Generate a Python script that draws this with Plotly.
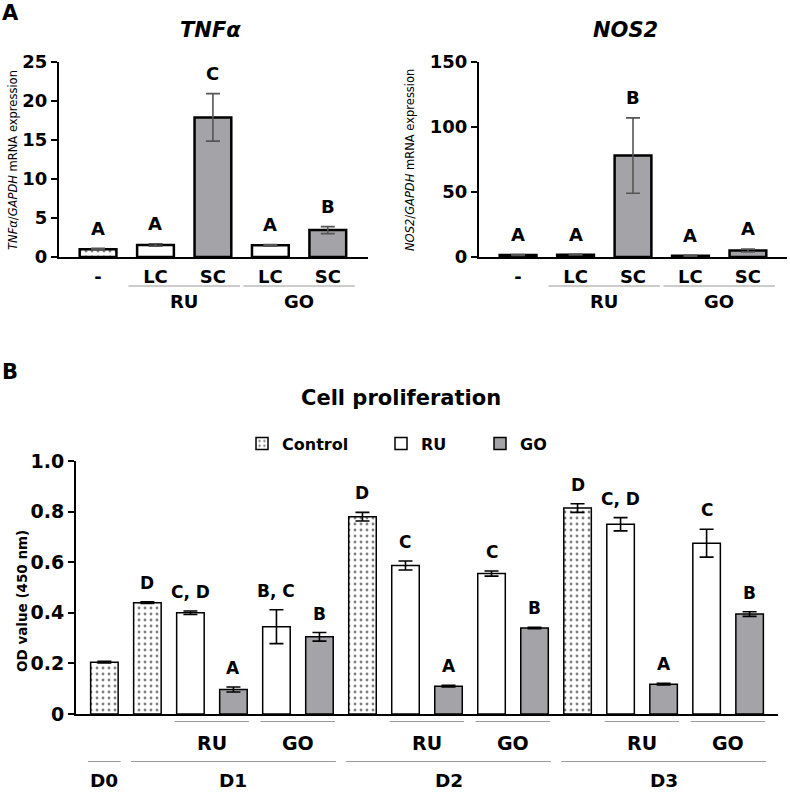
import plotly.graph_objects as go

# ---- data ----
a_labels = ['-', 'LC', 'SC', 'LC', 'SC']
a_kind = ['Control', 'RU', 'GO', 'RU', 'GO']
a_groups = [('RU', 1, 2), ('GO', 3, 4)]

tnf_mean = [1.0, 1.55, 17.9, 1.5, 3.45]
tnf_err = [0.1, 0.15, 3.05, 0.1, 0.45]
tnf_letters = ['A', 'A', 'C', 'A', 'B']

nos_mean = [1.5, 1.8, 78.0, 1.0, 5.0]
nos_err = [0.3, 0.3, 29.0, 0.3, 1.2]
nos_letters = ['A', 'A', 'B', 'A', 'A']

b_kind = ['Control', 'Control', 'RU', 'GO', 'RU', 'GO',
          'Control', 'RU', 'GO', 'RU', 'GO',
          'Control', 'RU', 'GO', 'RU', 'GO']
od_mean = [0.205, 0.44, 0.40, 0.097, 0.345, 0.305,
           0.78, 0.587, 0.11, 0.555, 0.34,
           0.814, 0.75, 0.118, 0.675, 0.395]
od_err = [0.003, 0.003, 0.007, 0.01, 0.067, 0.017,
          0.017, 0.018, 0.003, 0.01, 0.003,
          0.017, 0.026, 0.003, 0.055, 0.009]
od_letters = ['', 'D', 'C, D', 'A', 'B, C', 'B',
              'D', 'C', 'A', 'C', 'B',
              'D', 'C, D', 'A', 'C', 'B']
b_subgroups = [('RU', 2, 3), ('GO', 4, 5), ('RU', 7, 8),
               ('GO', 9, 10), ('RU', 12, 13), ('GO', 14, 15)]
b_days = [('D0', 0, 0), ('D1', 1, 5), ('D2', 6, 10), ('D3', 11, 15)]

# ---- style ----
W, H = 790, 792
FONT = 'DejaVu Sans, Verdana, sans-serif'
GRAY = '#A4A4A8'
LINE_GRAY = '#9A9A9A'


def px(p):
    # pixel in the picture -> paper fraction
    return p / W


def py(p):
    return 1 - p / H


def bar_style(kind):
    if kind == 'Control':
        return dict(color='white', pattern=dict(shape='.', fgcolor='black', bgcolor='white',
                                                size=6, solidity=0.18))
    if kind == 'RU':
        return dict(color='white')
    return dict(color=GRAY)


fig = go.Figure()
annotations = []
shapes = []


def add_bars(xa, ya, means, errs, kinds, lw, errcolor, errw, legend_on=False):
    for kind in ['Control', 'RU', 'GO']:
        idx = [i for i, k in enumerate(kinds) if k == kind]
        st = bar_style(kind)
        fig.add_trace(go.Bar(
            x=idx, y=[means[i] for i in idx],
            error_y=dict(type='data', array=[errs[i] for i in idx], color=errcolor,
                         thickness=1.6, width=errw),
            marker=dict(color=st['color'], pattern=st.get('pattern', {}),
                        line=dict(color='black', width=lw)),
            width=0.64, xaxis=xa, yaxis=ya, name=kind,
            showlegend=legend_on,
            legend={'Control': 'legend', 'RU': 'legend2', 'GO': 'legend3'}[kind],
        ))


def add_letters(xa, ya, means, errs, letters, size, shift):
    for i, t in enumerate(letters):
        if not t:
            continue
        annotations.append(dict(x=i, y=means[i] + errs[i], xref=xa, yref=ya, text=t,
                                showarrow=False, yanchor='middle', yshift=shift,
                                font=dict(family=FONT, size=size, color='black', weight='bold')))


def add_groups(xa, groups, line_y, label_y, size, pad_l, pad_r):
    for name, a, b in groups:
        shapes.append(dict(type='line', xref=xa, yref='paper', x0=a - pad_l, x1=b + pad_r,
                           y0=py(line_y), y1=py(line_y), line=dict(color=LINE_GRAY, width=1.2)))
        annotations.append(dict(x=(a + b) / 2, y=py(label_y), xref=xa, yref='paper', text=name,
                                showarrow=False, yanchor='middle',
                                font=dict(family=FONT, size=size, color='black', weight='bold')))


# panel A: TNFa and NOS2
add_bars('x', 'y', tnf_mean, tnf_err, a_kind, 2.5, '#555555', 7)
add_bars('x2', 'y2', nos_mean, nos_err, a_kind, 2.5, '#555555', 7)
add_letters('x', 'y', tnf_mean, tnf_err, tnf_letters, 18, 20)
add_letters('x2', 'y2', nos_mean, nos_err, nos_letters, 18, 20)
add_groups('x', a_groups, 286, 302, 18, 0.47, 0.47)
add_groups('x2', a_groups, 286, 302, 18, 0.47, 0.47)

# panel B: proliferation
add_bars('x3', 'y3', od_mean, od_err, b_kind, 1.5, 'black', 7, legend_on=True)
add_letters('x3', 'y3', od_mean, od_err, od_letters, 17, 19)
add_groups('x3', b_subgroups, 721.5, 742.5, 19, 0.37, 0.36)
add_groups('x3', b_days, 761.5, 780.5, 18.5, 0.38, 0.38)

tick_font = dict(family=FONT, size=19, color='black', weight='bold')
yax = dict(showline=True, linewidth=2, linecolor='black', ticks='outside', ticklen=6,
           tickwidth=2, tickcolor='black', showgrid=False, zeroline=False, tickfont=tick_font,
           automargin=False)
xax = dict(showline=True, linewidth=2, linecolor='black', ticks='', showgrid=False,
           zeroline=False, automargin=False,
           tickfont=dict(family=FONT, size=18, color='black', weight='bold'))

fig.update_layout(
    width=W, height=H, margin=dict(l=0, r=0, t=0, b=0, autoexpand=False),
    paper_bgcolor='white', plot_bgcolor='white', barmode='overlay',
    xaxis=dict(xax, domain=[px(59), px(368)], range=[-0.68, 4.7], anchor='y',
               tickvals=list(range(5)), ticktext=a_labels, ticklabelstandoff=2),
    yaxis=dict(yax, domain=[py(257), py(62)], range=[0, 25], anchor='x',
               tickvals=[0, 5, 10, 15, 20, 25], tickfont=dict(tick_font, size=18)),
    xaxis2=dict(xax, domain=[px(479), px(787)], range=[-0.68, 4.68], anchor='y2',
                tickvals=list(range(5)), ticktext=a_labels, ticklabelstandoff=2),
    yaxis2=dict(yax, domain=[py(257), py(62)], range=[0, 150], anchor='x2',
                tickvals=[0, 50, 100, 150], tickfont=dict(tick_font, size=18)),
    xaxis3=dict(xax, domain=[px(76), px(778)], range=[-0.66, 15.66], anchor='y3',
                showticklabels=False),
    yaxis3=dict(yax, domain=[py(714), py(461)], range=[0, 1.0], anchor='x3',
                tickvals=[0, 0.2, 0.4, 0.6, 0.8, 1.0],
                ticktext=['0', '0.2', '0.4', '0.6', '0.8', '1.0']),
)

leg = dict(orientation='h', yanchor='middle', xanchor='left', bgcolor='rgba(0,0,0,0)',
           font=dict(family=FONT, size=16, color='black', weight='bold'))
fig.update_layout(
    legend=dict(leg, x=px(242), y=py(443.5)),
    legend2=dict(leg, x=px(381), y=py(443.5)),
    legend3=dict(leg, x=px(480), y=py(443.5)),
)

# titles and panel letters
big = dict(family=FONT, color='black', weight='bold')
annotations += [
    dict(x=px(10), y=py(13), text='A', font=dict(big, size=21)),
    dict(x=px(10), y=py(372), text='B', font=dict(big, size=21)),
    dict(x=px(211), y=py(30), text='<i>TNFα</i>', font=dict(big, size=21)),
    dict(x=px(625), y=py(30), text='<i>NOS2</i>', font=dict(big, size=21)),
    dict(x=px(401), y=py(398), text='Cell proliferation', font=dict(big, size=21)),
    dict(x=px(13), y=py(160), text='<i>TNFα</i>/<i>GAPDH</i> mRNA expression', textangle=-90,
         font=dict(family=FONT, size=11.5, color='black')),
    dict(x=px(410), y=py(160), text='<i>NOS2</i>/<i>GAPDH</i> mRNA expression', textangle=-90,
         font=dict(family=FONT, size=11.5, color='black')),
    dict(x=px(22), y=py(601), text='OD value (450 nm)', textangle=-90,
         font=dict(big, size=13.5)),
]
for a in annotations[-8:]:
    a.update(xref='paper', yref='paper', showarrow=False, xanchor='center', yanchor='middle')

fig.update_layout(annotations=annotations, shapes=shapes)
# drop the page's default body margin so the figure sits at the window corner
fig.write_html('out.html', config={'displayModeBar': False},
               post_script="document.body.style.margin='0px';")
